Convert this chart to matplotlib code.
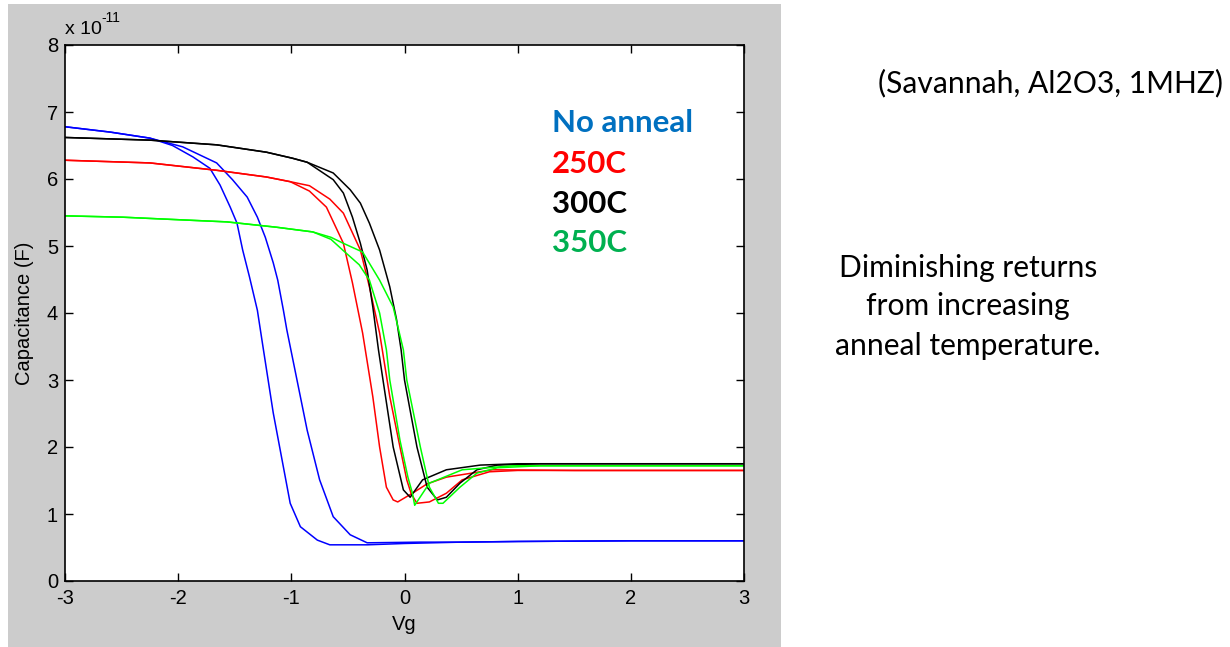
import matplotlib.pyplot as plt
from matplotlib.patches import Rectangle

# C-V sweeps (Savannah, Al2O3, 1 MHz), capacitance in units of 1e-11 F
# every anneal condition has two sweep branches (hysteresis loop)
vg_none_a = [-3, -2.6, -2.25, -2.05, -1.87, -1.72, -1.63, -1.54, -1.48, -1.43, -1.37, -1.30, -1.25,
             -1.16, -1.07, -1.01, -0.92, -0.77, -0.66, -0.33, 0.0, 0.5, 1.0, 2.0, 3.0]
c_none_a = [6.78, 6.70, 6.61, 6.50, 6.33, 6.16, 5.91, 5.58, 5.34, 4.94, 4.54, 4.04, 3.49,
            2.51, 1.70, 1.16, 0.81, 0.61, 0.54, 0.54, 0.56, 0.58, 0.59, 0.60, 0.60]
vg_none_b = [-3, -2.6, -2.25, -1.96, -1.66, -1.52, -1.39, -1.30, -1.23, -1.16, -1.12, -1.07, -1.04,
             -0.95, -0.86, -0.75, -0.63, -0.48, -0.33, 0.14, 0.5, 1.0, 2.0, 3.0]
c_none_b = [6.78, 6.70, 6.61, 6.48, 6.24, 5.99, 5.73, 5.43, 5.13, 4.75, 4.49, 4.04, 3.75,
            3.00, 2.25, 1.51, 0.96, 0.69, 0.57, 0.58, 0.58, 0.59, 0.60, 0.60]

vg_250_a = [-3, -2.25, -1.66, -1.22, -1.01, -0.84, -0.69, -0.54, -0.46, -0.37, -0.28, -0.22,
            -0.16, -0.10, -0.06, 0.07, 0.20, 0.37, 0.78, 1.5, 3.0]
c_250_a = [6.28, 6.24, 6.13, 6.03, 5.96, 5.82, 5.58, 5.04, 4.45, 3.70, 2.75, 2.00,
           1.40, 1.21, 1.18, 1.31, 1.45, 1.55, 1.66, 1.65, 1.65]
vg_250_b = [-3, -2.25, -1.66, -1.22, -1.01, -0.84, -0.66, -0.54, -0.39, -0.31, -0.22, -0.13,
            -0.04, 0.02, 0.06, 0.11, 0.22, 0.37, 0.51, 0.75, 1.0, 3.0]
c_250_b = [6.28, 6.24, 6.13, 6.03, 5.96, 5.90, 5.70, 5.49, 4.94, 4.39, 3.70, 2.75,
           2.00, 1.51, 1.30, 1.16, 1.18, 1.31, 1.51, 1.63, 1.65, 1.65]

vg_300_a = [-3, -2.25, -1.66, -1.22, -0.99, -0.86, -0.63, -0.54, -0.46, -0.39, -0.33, -0.28,
            -0.23, -0.19, -0.10, -0.01, 0.05, 0.16, 0.37, 0.67, 1.0, 3.0]
c_300_a = [6.62, 6.58, 6.51, 6.40, 6.31, 6.25, 5.99, 5.79, 5.43, 5.04, 4.64, 4.09,
           3.45, 3.00, 2.00, 1.36, 1.25, 1.51, 1.66, 1.73, 1.75, 1.75]
vg_300_b = [-3, -2.25, -1.66, -1.22, -0.99, -0.86, -0.63, -0.48, -0.39, -0.31, -0.22, -0.13,
            -0.07, -0.03, 0.00, 0.11, 0.20, 0.29, 0.37, 0.49, 0.64, 0.82, 1.2, 3.0]
c_300_b = [6.62, 6.58, 6.51, 6.40, 6.31, 6.25, 6.09, 5.84, 5.64, 5.34, 4.94, 4.39,
           3.90, 3.45, 3.00, 2.00, 1.40, 1.21, 1.25, 1.46, 1.66, 1.73, 1.75, 1.75]

vg_350_a = [-3, -2.49, -2.10, -1.57, -1.13, -0.81, -0.65, -0.54, -0.40, -0.31, -0.22, -0.16,
            -0.13, -0.04, 0.03, 0.07, 0.09, 0.22, 0.51, 0.96, 3.0]
c_350_a = [5.45, 5.43, 5.40, 5.36, 5.28, 5.21, 5.10, 4.93, 4.72, 4.49, 4.00, 3.45,
           3.00, 2.10, 1.55, 1.31, 1.13, 1.46, 1.66, 1.72, 1.72]
vg_350_b = [-3, -2.49, -2.10, -1.57, -1.13, -0.81, -0.65, -0.54, -0.37, -0.22, -0.10, -0.01,
            0.02, 0.14, 0.22, 0.30, 0.34, 0.49, 0.64, 0.82, 1.2, 3.0]
c_350_b = [5.45, 5.43, 5.40, 5.36, 5.28, 5.21, 5.13, 5.04, 4.91, 4.49, 4.09, 3.45,
           3.00, 2.00, 1.40, 1.16, 1.16, 1.40, 1.61, 1.69, 1.72, 1.72]

labels = ['No anneal', '250C', '300C', '350C']
line_colors = ['#0000ff', '#ff0000', '#000000', '#00ff00']
label_colors = ['#0070c0', '#ff0000', '#000000', '#00b050']

plt.rcParams['axes.unicode_minus'] = False
plt.rcParams['font.family'] = 'Liberation Sans'

W, H = 1230, 647
fig = plt.figure(figsize=(W / 100, H / 100), dpi=100)
fig.patch.set_facecolor('white')

def px(x, y):
    return x / W, 1 - y / H

# matlab-grey figure panel, kept behind the axes
fig.patches.append(Rectangle(px(8, 647), 773 / W, 643 / H, transform=fig.transFigure,
                             facecolor='#cccccc', edgecolor='none', zorder=-5))

ax = fig.add_axes([65 / W, 1 - 581 / H, 679 / W, 536 / H])
ax.set_zorder(1)
ax.set_facecolor('white')

sweeps = [(vg_none_a, c_none_a, vg_none_b, c_none_b),
          (vg_250_a, c_250_a, vg_250_b, c_250_b),
          (vg_300_a, c_300_a, vg_300_b, c_300_b),
          (vg_350_a, c_350_a, vg_350_b, c_350_b)]
for (xa, ya, xb, yb), col in zip(sweeps, line_colors):
    ax.plot(xa, ya, color=col, lw=1.1)
    ax.plot(xb, yb, color=col, lw=1.1)

ax.set_xlim(-3, 3)
ax.set_ylim(0, 8)
ax.set_xticks(range(-3, 4))
ax.set_yticks(range(0, 9))
ax.tick_params(direction='in', top=True, right=True, length=6, width=1, labelsize=14.5, color='black')
ax.tick_params(axis='x', pad=6)
ax.tick_params(axis='y', pad=5)
for s in ax.spines.values():
    s.set_linewidth(1.2)
ax.set_xlabel('Vg', fontsize=14.5, labelpad=5)
ax.set_ylabel('Capacitance (F)', fontsize=14.5, labelpad=9)

# matlab style exponent
fig.text(*px(65, 34), 'x 10', fontsize=14, va='baseline')
fig.text(*px(101, 22), '-11', fontsize=10, va='baseline')

# coloured labels
for lab, col, y in zip(labels, label_colors, [123, 164, 204, 243]):
    fig.text(*px(552, y), lab, color=col, fontsize=22.5, family='Lato', weight='bold', va='center')

fig.text(*px(1223, 92), '(Savannah, Al2O3, 1MHZ)', fontsize=21.6, family='Lato', ha='right', va='baseline')
for txt, y in zip(['Diminishing returns', 'from increasing', 'anneal temperature.'], [277, 315, 355]):
    fig.text(*px(968, y), txt, fontsize=21.6, family='Lato', ha='center', va='baseline')

fig.savefig('out.png', dpi=100)
